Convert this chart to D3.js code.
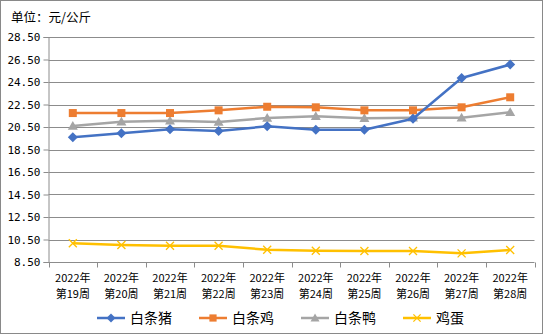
<!DOCTYPE html>
<html>
<head>
<meta charset="utf-8">
<script src="https://cdn.jsdelivr.net/npm/d3@7"></script>
<style>
  html, body { margin: 0; padding: 0; background: #fff; }
  svg { display: block; font-family: "Noto Sans CJK SC", "DejaVu Sans", sans-serif; }
</style>
</head>
<body>
<svg id="chart" width="544" height="336"></svg>
<script>
// Weekly wholesale prices (元/公斤)
const weeks = ["第19周", "第20周", "第21周", "第22周", "第23周", "第24周", "第25周", "第26周", "第27周", "第28周"];
const yearLabel = "2022年";
const pork    = [19.58, 19.94, 20.30, 20.14, 20.56, 20.26, 20.26, 21.24, 24.85, 26.05];
const chicken = [21.74, 21.74, 21.74, 21.98, 22.30, 22.25, 21.98, 21.98, 22.25, 23.14];
const duck    = [20.59, 20.97, 21.06, 20.94, 21.30, 21.45, 21.27, 21.33, 21.33, 21.81];
const eggs    = [10.16, 10.01, 9.95, 9.95, 9.59, 9.50, 9.48, 9.48, 9.27, 9.57];
const seriesNames = ["白条猪", "白条鸡", "白条鸭", "鸡蛋"];
const yTicks = [8.5, 10.5, 12.5, 14.5, 16.5, 18.5, 20.5, 22.5, 24.5, 26.5, 28.5];

const series = [
  { name: seriesNames[0], values: pork,    color: "#4472C4", marker: "diamond" },
  { name: seriesNames[1], values: chicken, color: "#ED7D31", marker: "square" },
  { name: seriesNames[2], values: duck,    color: "#A5A5A5", marker: "triangle" },
  { name: seriesNames[3], values: eggs,    color: "#FFC000", marker: "cross" }
];

const svg = d3.select("#chart");
const plot = { left: 48.5, right: 534.5, top: 37, bottom: 262 };

// outer frame
svg.append("rect")
  .attr("x", 0.5).attr("y", 0.5).attr("width", 542).attr("height", 333)
  .attr("fill", "#fff").attr("stroke", "#898989").attr("stroke-width", 1);

// unit caption
svg.append("text")
  .attr("x", 11).attr("y", 22)
  .attr("font-size", 12.5).attr("fill", "#000")
  .text("单位：元/公斤");

const x = d3.scaleBand().domain(weeks).range([plot.left, plot.right]).padding(0);
const y = d3.scaleLinear().domain([8.5, 28.5]).range([plot.bottom, plot.top]);

// horizontal gridlines
svg.append("g").selectAll("line").data(yTicks.slice(1)).join("line")
  .attr("x1", plot.left).attr("x2", plot.right)
  .attr("y1", d => Math.round(y(d)) + 0.5).attr("y2", d => Math.round(y(d)) + 0.5)
  .attr("stroke", "#8c8c8c").attr("stroke-width", 1);

// y axis
const yAxis = svg.append("g")
  .attr("transform", `translate(${plot.left},0)`)
  .call(d3.axisLeft(y).tickValues(yTicks).tickFormat(d3.format(".2f")).tickSize(5).tickPadding(3));
yAxis.select(".domain").attr("stroke", "#8c8c8c");
yAxis.selectAll(".tick line").attr("stroke", "#8c8c8c");
yAxis.selectAll(".tick text")
  .attr("font-size", 11).attr("fill", "#000")
  .attr("font-family", "'DejaVu Sans Mono', 'Liberation Mono', monospace");

// x axis with ticks at category boundaries
const xAxisG = svg.append("g").attr("transform", `translate(0,${Math.round(plot.bottom) + 0.5})`);
xAxisG.append("line")
  .attr("x1", plot.left).attr("x2", plot.right)
  .attr("stroke", "#8c8c8c");
const bounds = weeks.map(w => x(w)).concat([x(weeks[weeks.length - 1]) + x.bandwidth()]);
xAxisG.selectAll("line.tk").data(bounds).join("line").attr("class", "tk")
  .attr("x1", d => Math.round(d) + 0.5).attr("x2", d => Math.round(d) + 0.5)
  .attr("y1", 0).attr("y2", 5).attr("stroke", "#8c8c8c");
// two-line category labels: year on top, week below
xAxisG.selectAll("text.yr").data(weeks).join("text").attr("class", "yr")
  .attr("text-anchor", "middle").attr("font-size", 11).attr("fill", "#000")
  .attr("x", d => x(d) + x.bandwidth() / 2).attr("y", 19)
  .text(yearLabel);
xAxisG.selectAll("text.wk").data(weeks).join("text").attr("class", "wk")
  .attr("text-anchor", "middle").attr("font-size", 11).attr("fill", "#000")
  .attr("x", d => x(d) + x.bandwidth() / 2).attr("y", 35)
  .text(d => d);

// marker shapes
function drawMarker(g, type, color, size) {
  const s = size;
  if (type === "diamond") {
    g.append("path").attr("d", `M0,${-s}L${s},0L0,${s}L${-s},0Z`).attr("fill", color);
  } else if (type === "square") {
    g.append("rect").attr("x", -s * 0.8).attr("y", -s * 0.8).attr("width", s * 1.6).attr("height", s * 1.6).attr("fill", color);
  } else if (type === "triangle") {
    g.append("path").attr("d", `M0,${-s}L${s},${s * 0.75}L${-s},${s * 0.75}Z`).attr("fill", color);
  } else if (type === "cross") {
    g.append("path").attr("d", `M${-s * 0.8},${-s * 0.8}L${s * 0.8},${s * 0.8}M${s * 0.8},${-s * 0.8}L${-s * 0.8},${s * 0.8}`)
      .attr("stroke", color).attr("stroke-width", 1.3).attr("fill", "none");
  }
}

const line = d3.line().x((d, i) => x(weeks[i]) + x.bandwidth() / 2).y(d => y(d));

// draw series from back to front
[...series].reverse().forEach(s => {
  const g = svg.append("g");
  g.append("path").datum(s.values).attr("d", line)
    .attr("fill", "none").attr("stroke", s.color).attr("stroke-width", 2.5)
    .attr("stroke-linejoin", "round");
  s.values.forEach((v, i) => {
    const m = g.append("g").attr("transform", `translate(${x(weeks[i]) + x.bandwidth() / 2},${y(v)})`);
    drawMarker(m, s.marker, s.color, 5);
  });
});

// legend
const legendX = [97, 199, 301, 403];
const legendY = 318;
series.forEach((s, i) => {
  const g = svg.append("g").attr("transform", `translate(${legendX[i]},${legendY})`);
  g.append("line").attr("x1", 0).attr("x2", 28).attr("y1", 0).attr("y2", 0)
    .attr("stroke", s.color).attr("stroke-width", 2.5);
  const m = g.append("g").attr("transform", "translate(14,0)");
  drawMarker(m, s.marker, s.color, 4.5);
  g.append("text").attr("x", 33).attr("y", 5).attr("font-size", 14).attr("fill", "#000").text(s.name);
});
</script>
</body>
</html>
